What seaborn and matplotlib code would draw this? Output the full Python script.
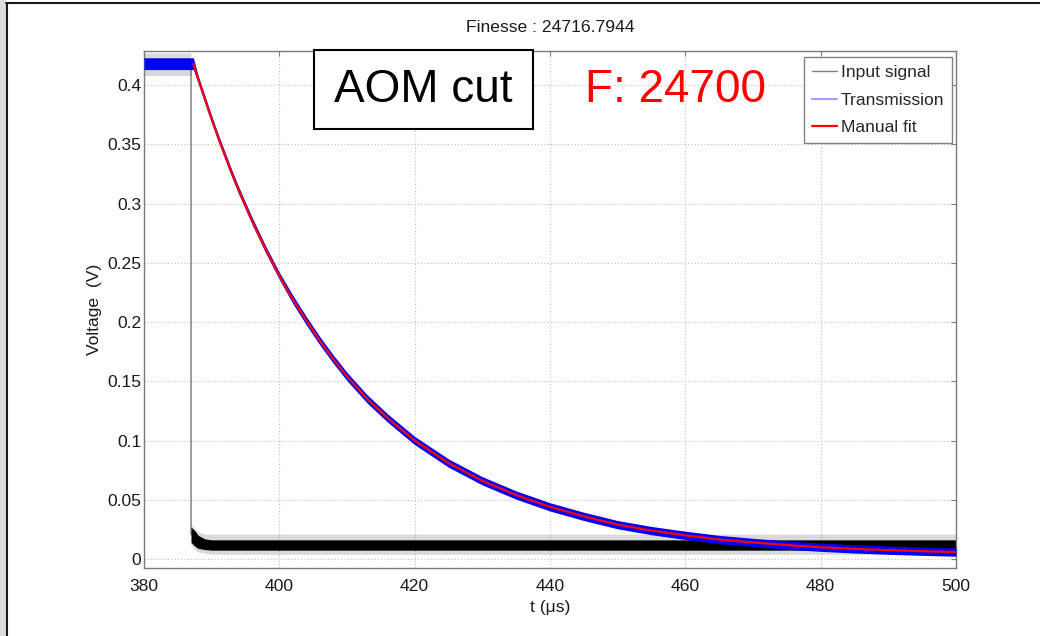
import matplotlib
matplotlib.use("Agg")
import matplotlib.pyplot as plt
from matplotlib import font_manager
from matplotlib.lines import Line2D
from matplotlib.patches import Rectangle
import seaborn as sns

# transmission (measured) : centre of the noisy blue trace and its half-spread
t_trans = [380, 387.3, 388, 389, 390, 391, 392, 393, 394, 395, 396, 397, 398, 399,
           400, 402, 404, 406, 408, 410, 413, 416, 420, 425, 430, 435, 440, 445,
           450, 455, 460, 465, 470, 475, 480, 485, 490, 495, 500]
trans_v = [0.418, 0.418, 0.405, 0.388, 0.371, 0.355, 0.340, 0.325, 0.311, 0.298,
           0.285, 0.273, 0.261, 0.250, 0.239, 0.219, 0.201, 0.184, 0.1685, 0.154,
           0.135, 0.119, 0.100, 0.081, 0.066, 0.054, 0.044, 0.036, 0.029, 0.024,
           0.020, 0.0165, 0.014, 0.0118, 0.010, 0.0086, 0.0075, 0.0066, 0.0059]
trans_spread = [0.005, 0.005] + [0.003] * 13 + [0.0035] * 24

# manual fit
t_fit = t_trans[1:]
fit_v = trans_v[1:]

# input signal (AOM cut) : centre line and noise envelope
t_in = [380, 386.95, 386.95, 387.5, 388, 389, 390, 500]
in_v = [0.418, 0.418, 0.021, 0.018, 0.015, 0.013, 0.012, 0.012]
in_lo = [0.414, 0.414, 0.014, 0.011, 0.009, 0.008, 0.0075, 0.0075]
in_hi = [0.422, 0.422, 0.027, 0.024, 0.020, 0.017, 0.0162, 0.0162]
in_spike_lo = [0.408, 0.408, 0.012, 0.008, 0.006, 0.005, 0.004, 0.004]
in_spike_hi = [0.427, 0.427, 0.029, 0.026, 0.023, 0.021, 0.021, 0.021]

x_ticks = [380, 400, 420, 440, 460, 480, 500]
y_ticks = [0, 0.05, 0.1, 0.15, 0.2, 0.25, 0.3, 0.35, 0.4]
y_tick_labels = ["0", "0.05", "0.1", "0.15", "0.2", "0.25", "0.3", "0.35", "0.4"]

sns.set_style("white")
names = {f.name for f in font_manager.fontManager.ttflist}
if "Liberation Sans Narrow" in names:
    base_font, fs = "Liberation Sans Narrow", 15
else:
    base_font, fs = "Liberation Sans", 12.6
plt.rcParams["font.family"] = [base_font, "DejaVu Sans"]

fig = plt.figure(figsize=(10.4, 6.36), dpi=100)
ax = fig.add_axes([144 / 1040, 1 - 568.3 / 636, 812 / 1040, 517.3 / 636])

# input signal: thin trace underneath, noise band on top of it
sns.lineplot(x=t_in, y=in_v, ax=ax, color="#666666", lw=0.9, sort=False,
             estimator=None, zorder=1)
ax.fill_between(t_in, in_spike_lo, in_spike_hi, color="black", alpha=0.15, lw=0,
                zorder=2)
ax.fill_between(t_in, in_lo, in_hi, color="black", lw=0, zorder=2)

# transmission
lo = [v - s for v, s in zip(trans_v, trans_spread)]
hi = [v + s for v, s in zip(trans_v, trans_spread)]
ax.fill_between(t_trans, lo, hi, color="#0000ff", lw=0, zorder=3)

# fit
sns.lineplot(x=t_fit, y=fit_v, ax=ax, color="#ff0000", lw=1.6, sort=False,
             estimator=None, zorder=4)

ax.set_xlim(380, 500)
ax.set_ylim(-0.0078, 0.4287)
ax.set_xticks(x_ticks)
ax.set_yticks(y_ticks)
ax.set_yticklabels(y_tick_labels)
ax.grid(True, linestyle=(0, (1, 2)), color="#bdbdbd", lw=0.8)
ax.set_axisbelow(True)
for sp in ax.spines.values():
    sp.set_color("#7a7a7a")
    sp.set_linewidth(1.0)
ax.tick_params(direction="in", length=3.6, width=0.8, color="#7a7a7a",
               top=True, right=True, labelsize=fs, labelcolor="#1a1a1a")
ax.tick_params(axis="x", pad=8)
ax.tick_params(axis="y", pad=2)

ax.set_title("Finesse : 24716.7944", fontsize=fs, pad=14, color="#1a1a1a")
ax.set_xlabel("t (μs)", fontsize=fs, labelpad=4, color="#1a1a1a")
ax.set_ylabel("Voltage  (V)", fontsize=fs, labelpad=4, color="#1a1a1a")

# legend
handles = [Line2D([], [], color="#808080", lw=1.0),
           Line2D([], [], color="#a0a0ff", lw=1.5),
           Line2D([], [], color="#ff0000", lw=1.6)]
leg = ax.legend(handles, ["Input signal", "Transmission", "Manual fit"],
                loc="upper right", bbox_to_anchor=(0.995, 0.988), borderaxespad=0,
                fontsize=fs, frameon=True, fancybox=False, framealpha=1,
                handlelength=1.45, handletextpad=0.2, labelspacing=0.7,
                borderpad=0.45)
leg.get_frame().set_edgecolor("#808080")
leg.get_frame().set_linewidth(1.0)
leg.set_zorder(7)

# overlay annotations
ax.add_patch(Rectangle((0.2094, 0.849), 0.2697, 0.153, transform=ax.transAxes,
                       fill=True, facecolor="white", edgecolor="black", lw=1.5,
                       clip_on=False, zorder=5))
ax.text(0.3436, 0.9246, "AOM cut", transform=ax.transAxes, ha="center", va="center",
        fontsize=33, family=["Liberation Sans", "DejaVu Sans"], color="black", zorder=6)
ax.text(0.654, 0.9246, "F: 24700", transform=ax.transAxes, ha="center", va="center",
        fontsize=33, family=["Liberation Sans", "DejaVu Sans"], color="#ff0000", zorder=6)

# slide frame
fig.add_artist(Rectangle((0, 0), 6 / 1040, 1, transform=fig.transFigure,
                         color="#dcdcdc", lw=0))
fig.add_artist(Line2D([7 / 1040, 7 / 1040], [0, 1 - 2.5 / 636], transform=fig.transFigure,
                      color="#1a1a1a", lw=1.5))
fig.add_artist(Line2D([6 / 1040, 1], [1 - 2.5 / 636, 1 - 2.5 / 636],
                      transform=fig.transFigure, color="#1a1a1a", lw=1.5))

fig.savefig("out.png", dpi=100)
